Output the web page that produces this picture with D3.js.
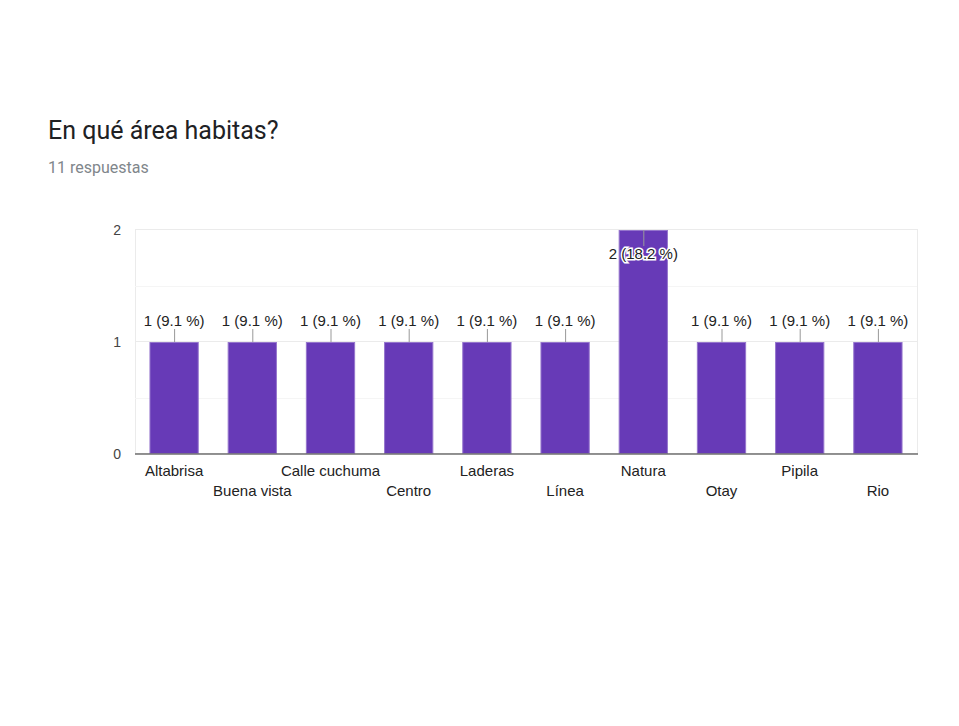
<!DOCTYPE html>
<html>
<head>
<meta charset="utf-8">
<script src="https://cdn.jsdelivr.net/npm/d3@7"></script>
<style>
  body { margin: 0; background: #fff; }
  svg { display: block; }
</style>
</head>
<body>
<svg id="chart" width="959" height="726"></svg>
<script>
// survey answers
var areas = ['Altabrisa', 'Buena vista', 'Calle cuchuma', 'Centro', 'Laderas', 'Línea', 'Natura', 'Otay', 'Pipila', 'Rio'];
var counts = [1, 1, 1, 1, 1, 1, 2, 1, 1, 1];
var percents = ['9.1', '9.1', '9.1', '9.1', '9.1', '9.1', '18.2', '9.1', '9.1', '9.1'];
var yTicks = [0, 1, 2];
var yMinor = [0.5, 1.5];

var svg = d3.select('#chart');

svg.append('text')
	.attr('x', 48).attr('y', 139)
	.style('font-family', 'Roboto, sans-serif')
	.style('font-size', '25px')
	.style('fill', '#202124')
	.text('En qué área habitas?');

svg.append('text')
	.attr('x', 48).attr('y', 173)
	.style('font-family', 'Roboto, sans-serif')
	.style('font-size', '16px')
	.style('fill', '#80868b')
	.text('11 respuestas');

var plotLeft = 135, plotRight = 917, plotTop = 230, plotBottom = 454;

var x = d3.scaleBand().domain(areas).range([plotLeft, plotRight]).paddingInner(0.37).paddingOuter(0.185);
var y = d3.scaleLinear().domain([0, 2]).range([plotBottom, plotTop]);

var g = svg.append('g').style('font-family', 'Arial, "Liberation Sans", sans-serif');

// frame + grid
g.append('rect')
	.attr('x', plotLeft + 0.5).attr('y', plotTop - 0.5)
	.attr('width', plotRight - plotLeft).attr('height', plotBottom - plotTop)
	.attr('fill', 'none').attr('stroke', '#ebebeb');

g.selectAll('.minor').data(yMinor).enter().append('line')
	.attr('x1', plotLeft).attr('x2', plotRight)
	.attr('y1', function (d) { return y(d) + 0.5; })
	.attr('y2', function (d) { return y(d) + 0.5; })
	.attr('stroke', '#f5f5f5');

g.selectAll('.major').data(yTicks.slice(1)).enter().append('line')
	.attr('x1', plotLeft).attr('x2', plotRight)
	.attr('y1', function (d) { return y(d) - 0.5; })
	.attr('y2', function (d) { return y(d) - 0.5; })
	.attr('stroke', '#ebebeb');

g.selectAll('.ytick').data(yTicks).enter().append('text')
	.attr('x', plotLeft - 14).attr('y', function (d) { return y(d) + 5; })
	.attr('text-anchor', 'end')
	.style('font-size', '14px')
	.style('fill', '#444')
	.text(function (d) { return d; });

// bars
g.selectAll('.bar').data(counts).enter().append('rect')
	.attr('x', function (d, i) { return x(areas[i]) + 0.5; })
	.attr('y', function (d) { return y(d) + 0.5; })
	.attr('width', x.bandwidth() - 1)
	.attr('height', function (d) { return y(0) - y(d) - 1; })
	.attr('fill', '#673ab7')
	.attr('stroke', '#9575cd')
	.attr('stroke-width', 1);

// baseline
g.append('line')
	.attr('x1', plotLeft).attr('x2', plotRight + 1)
	.attr('y1', plotBottom).attr('y2', plotBottom)
	.attr('stroke', '#6f6f6f').attr('stroke-width', 1.5);

// leader lines and value labels
counts.forEach(function (d, i) {
	var cx = x(areas[i]) + x.bandwidth() / 2;
	var inside = d === d3.max(counts);
	var ly = inside ? y(d) + 29 : y(d) - 16;
	g.append('line')
		.attr('x1', cx + 0.5).attr('x2', cx + 0.5)
		.attr('y1', inside ? y(d) : y(d) - 13)
		.attr('y2', inside ? y(d) + 16 : y(d))
		.attr('stroke', '#999');
	var t = g.append('text')
		.attr('x', cx).attr('y', ly)
		.attr('text-anchor', 'middle')
		.style('font-size', '15px')
		.style('fill', '#222')
		.text(d + ' (' + percents[i] + ' %)');
	if (inside) {
		t.style('stroke', '#fff').style('stroke-width', 3).style('paint-order', 'stroke');
	}
});

// x labels, staggered on two rows
g.selectAll('.xlab').data(areas).enter().append('text')
	.attr('x', function (d) { return x(d) + x.bandwidth() / 2; })
	.attr('y', function (d, i) { return i % 2 === 0 ? plotBottom + 22 : plotBottom + 42; })
	.attr('text-anchor', 'middle')
	.style('font-size', '15px')
	.style('fill', '#222')
	.text(function (d) { return d; });
</script>
</body>
</html>
